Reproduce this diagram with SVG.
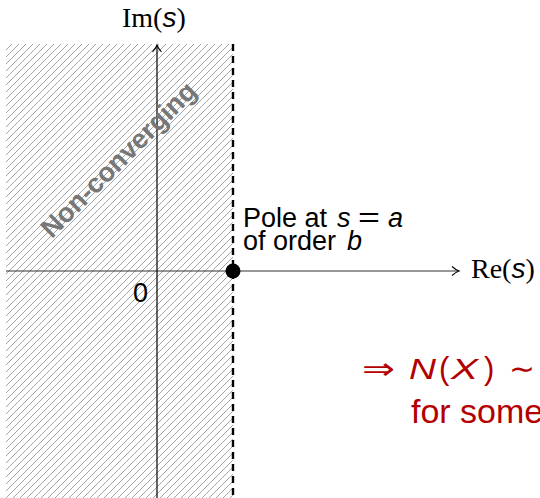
<svg xmlns="http://www.w3.org/2000/svg" width="540" height="498" viewBox="0 0 540 498">
<defs>
<pattern id="hatch" patternUnits="userSpaceOnUse" width="7" height="7">
<path d="M-1,1 L1,-1 M0,7 L7,0 M6,8 L8,6" stroke="#9a9a9a" stroke-width="0.9"/>
</pattern>
<marker id="arr" markerWidth="12" markerHeight="12" refX="10" refY="6" orient="auto" markerUnits="userSpaceOnUse">
<path d="M3,1.5 Q7,5 10,6 Q7,7 3,10.5" fill="none" stroke="#000" stroke-width="1.1"/>
</marker>
</defs>
<style>
.sans{font-family:"Liberation Sans","DejaVu Sans",sans-serif;font-size:27px;fill:#000}
.serif{font-family:"Liberation Serif","DejaVu Serif",serif;font-size:28px;fill:#000}
.it{font-style:italic;font-family:"Liberation Sans","DejaVu Sans",sans-serif}
.red{font-family:"Liberation Sans","DejaVu Sans",sans-serif;fill:#b30000}
</style>
<g id="region">
<rect x="6" y="44" width="227" height="454" fill="url(#hatch)"/>
</g>
<g id="connectors">
<line x1="6" y1="271" x2="459" y2="271" stroke="#333" stroke-width="1.2" marker-end="url(#arr)"/>
<line x1="157" y1="498" x2="157" y2="45" stroke="#000" stroke-width="1.2" marker-end="url(#arr)"/>
<line x1="233" y1="44" x2="233" y2="498" stroke="#000" stroke-width="2.4" stroke-dasharray="7,5"/>
</g>
<g id="label-noncon">
<text x="125" y="166" transform="rotate(-45 125 166)" text-anchor="middle" font-family="'Liberation Sans','DejaVu Sans',sans-serif" font-weight="bold" font-size="27" fill="#777">Non-converging</text>
</g>
<g id="axis-im"><text class="serif" x="122" y="27">Im(<tspan class="it">s</tspan>)</text></g>
<g id="axis-re"><text class="serif" x="471" y="278">Re(<tspan class="it">s</tspan>)</text></g>
<g id="origin"><text class="sans" x="133" y="302" font-size="26">0</text></g>
<g id="pole">
<circle cx="233" cy="271" r="7.5" fill="#000"/>
<text class="sans" x="243" y="227">Pole at</text>
<text class="sans it" x="337" y="227">s</text>
<text class="sans" x="358" y="227" textLength="22" lengthAdjust="spacingAndGlyphs">=</text>
<text class="sans it" x="388" y="227">a</text>
<text class="sans" x="243" y="250">of order</text>
<text class="sans it" x="347" y="250">b</text>
</g>
<g id="result">
<text class="red" x="362" y="379" font-size="30" textLength="33" lengthAdjust="spacingAndGlyphs">⇒</text>
<text class="red it" x="409" y="379" font-size="30" textLength="27" lengthAdjust="spacingAndGlyphs">N</text>
<text class="red" x="439" y="379" font-size="31">(</text>
<text class="red it" x="451" y="379" font-size="30" textLength="27" lengthAdjust="spacingAndGlyphs">X</text>
<text class="red" x="484" y="379" font-size="31">)</text>
<text class="red" x="509" y="379" font-size="30" textLength="26" lengthAdjust="spacingAndGlyphs">∼</text>
<text class="red" x="411" y="423" font-size="34">for some</text>
</g>
</svg>
